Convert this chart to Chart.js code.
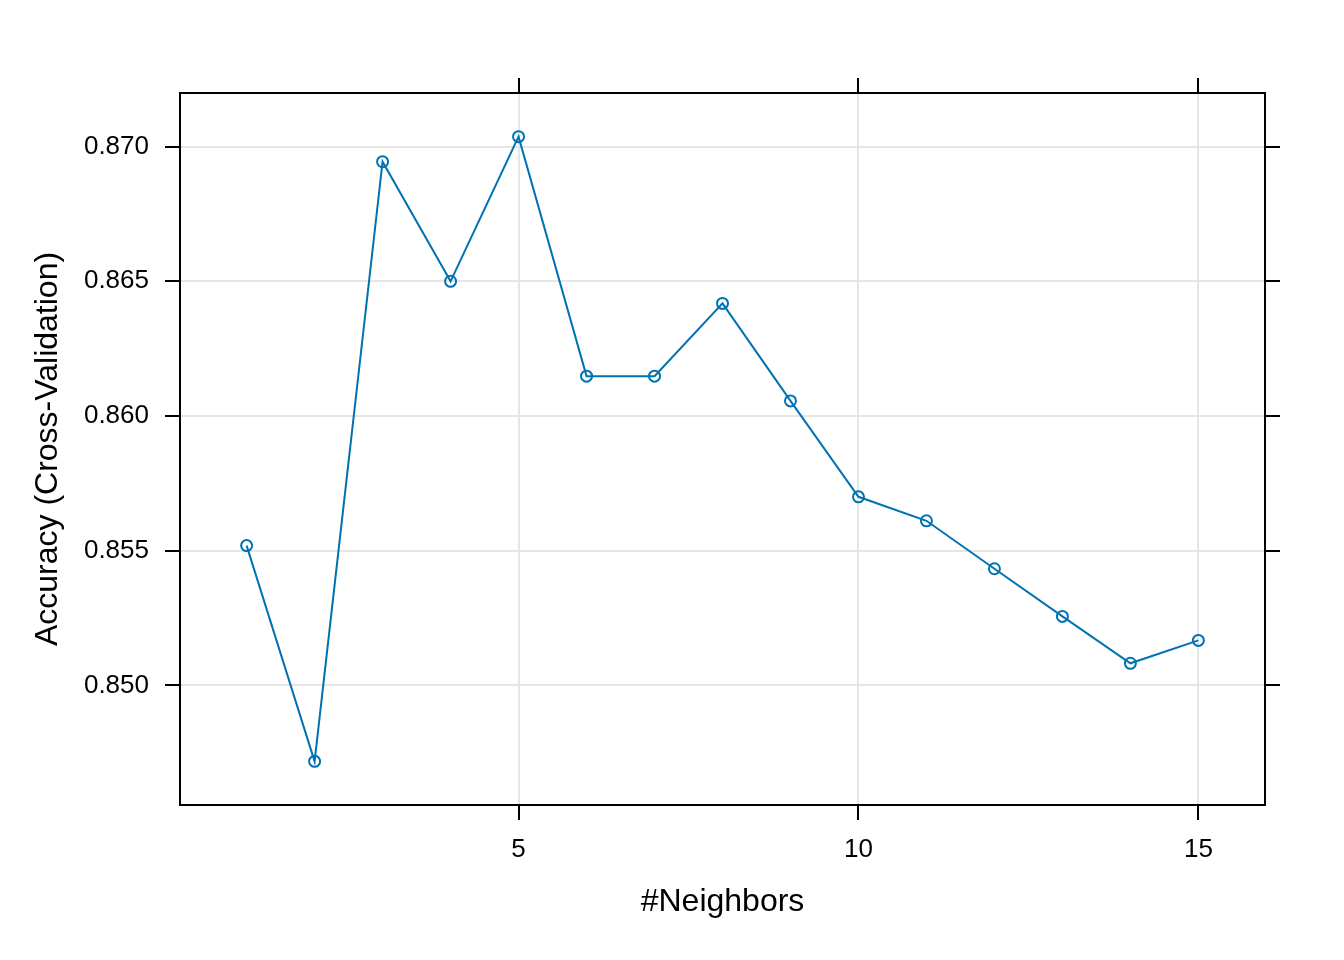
<!DOCTYPE html>
<html lang="en">
<head>
    <meta charset="UTF-8">
    <title>Accuracy vs #Neighbors</title>
    <script src="https://cdn.jsdelivr.net/npm/chart.js"></script>
    <style>
        body { margin: 0; background: #fff; }
        #wrap { width: 1344px; height: 960px; }
    </style>
</head>
<body>
    <div id="wrap"><canvas id="knnChart" width="1344" height="960"></canvas></div>

    <script>
        // data
        const neighbors = [1, 2, 3, 4, 5, 6, 7, 8, 9, 10, 11, 12, 13, 14, 15];
        const accuracy = [0.85519, 0.84718, 0.86944, 0.86500, 0.87037, 0.86148, 0.86148,
                          0.86418, 0.86056, 0.85700, 0.85611, 0.85433, 0.85256, 0.85082, 0.85167];
        const xTicks = [5, 10, 15];
        const xTickLabels = ['5', '10', '15'];
        const yTicks = [0.850, 0.855, 0.860, 0.865, 0.870];
        const yTickLabels = ['0.850', '0.855', '0.860', '0.865', '0.870'];

        const lineColor = '#0072B2';
        const gridColor = '#e6e6e6';
        const tickFont = { family: 'Liberation Sans, Arial, sans-serif', size: 26 };
        const titleFont = { family: 'Liberation Sans, Arial, sans-serif', size: 32 };

        function fixedTicks(values) {
            return function(scale) {
                scale.ticks = values.map(v => ({ value: v }));
            };
        }

        function axis(pos, values, labels, min, max, size, main) {
            return {
                type: 'linear',
                position: pos,
                min: min,
                max: max,
                afterBuildTicks: fixedTicks(values),
                afterFit: function(scale) {
                    if (pos === 'left' || pos === 'right') scale.width = size;
                    else scale.height = size;
                },
                border: { display: true, color: '#000', width: 2 },
                grid: {
                    display: true,
                    drawOnChartArea: main,
                    color: gridColor,
                    lineWidth: 2,
                    drawTicks: true,
                    tickLength: 15,
                    tickColor: '#000',
                    tickWidth: 2
                },
                ticks: {
                    display: labels !== null,
                    color: '#000',
                    font: tickFont,
                    padding: pos === 'left' ? 16 : 14,
                    maxRotation: 0,
                    autoSkip: false,
                    callback: function(value, index) {
                        return labels ? labels[index] : '';
                    }
                }
            };
        }

        const xMin = 0.02, xMax = 15.98;
        const yMin = 0.84556, yMax = 0.87199;

        const scales = {
            x: axis('bottom', xTicks, xTickLabels, xMin, xMax, 155, true),
            x2: axis('top', xTicks, null, xMin, xMax, 93, false),
            y: axis('left', yTicks, yTickLabels, yMin, yMax, 180, true),
            y2: axis('right', yTicks, null, yMin, yMax, 79, false)
        };
        scales.x.title = {
            display: true, text: '#Neighbors', color: '#000', font: titleFont,
            padding: { top: 0, bottom: 39 }
        };
        scales.y.title = {
            display: true, text: 'Accuracy (Cross-Validation)', color: '#000', font: titleFont,
            padding: { top: 29, bottom: 0 }
        };

        new Chart(document.getElementById('knnChart').getContext('2d'), {
            type: 'line',
            data: {
                datasets: [{
                    data: neighbors.map((k, i) => ({ x: k, y: accuracy[i] })),
                    borderColor: lineColor,
                    borderWidth: 2,
                    pointStyle: 'circle',
                    pointRadius: 5.5,
                    pointBorderWidth: 2,
                    pointBorderColor: lineColor,
                    pointBackgroundColor: 'rgba(0,0,0,0)',
                    tension: 0,
                    fill: false,
                    xAxisID: 'x',
                    yAxisID: 'y'
                }]
            },
            options: {
                responsive: false,
                animation: false,
                devicePixelRatio: 1,
                layout: { padding: 0 },
                plugins: {
                    legend: { display: false },
                    tooltip: { enabled: false }
                },
                scales: scales
            }
        });
    </script>
</body>
</html>
